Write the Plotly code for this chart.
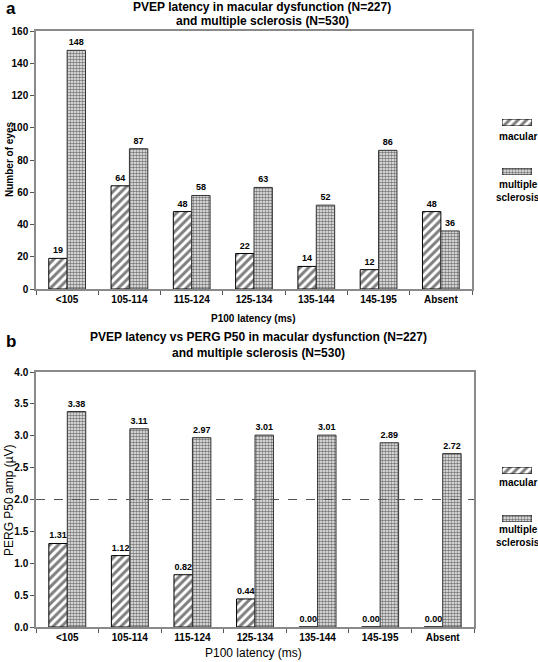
import plotly.graph_objects as go

W, H = 538, 662

categories = ["<105", "105-114", "115-124", "125-134", "135-144", "145-195", "Absent"]
macular_eyes = [19, 64, 48, 22, 14, 12, 48]
ms_eyes = [148, 87, 58, 63, 52, 86, 36]
macular_perg = [1.31, 1.12, 0.82, 0.44, 0.00, 0.00, 0.00]
ms_perg = [3.38, 3.11, 2.97, 3.01, 3.01, 2.89, 2.72]
threshold = 2.0

FONT = "Liberation Sans, Arial, sans-serif"
NARROW = "Liberation Sans Narrow, Arial Narrow, Liberation Sans, Arial, sans-serif"
FRAME = "#8a8a8a"

hatch = dict(shape="/", fgcolor="black", bgcolor="white", size=6, solidity=0.5)
dots = dict(shape=".", fgcolor="black", bgcolor="#f4f4f4", size=3, solidity=0.55)


def px_x(p):
    return p / W


def px_y(p):
    return 1 - p / H


fig = go.Figure()

txtfont = dict(family=NARROW, size=9, color="black", weight="bold")

# top panel
fig.add_trace(go.Bar(x=categories, y=macular_eyes, name="macular", xaxis="x", yaxis="y",
                     marker=dict(color="white", pattern=hatch, line=dict(color="black", width=1)),
                     text=macular_eyes, textposition="outside", textfont=txtfont,
                     cliponaxis=False, showlegend=False))
fig.add_trace(go.Bar(x=categories, y=ms_eyes, name="multiple sclerosis", xaxis="x", yaxis="y",
                     marker=dict(color="white", pattern=dots, line=dict(color="#333", width=1)),
                     text=ms_eyes, textposition="outside", textfont=txtfont,
                     cliponaxis=False, showlegend=False))
# bottom panel
fig.add_trace(go.Bar(x=categories, y=macular_perg, name="macular", xaxis="x2", yaxis="y2",
                     marker=dict(color="white", pattern=hatch, line=dict(color="black", width=1)),
                     texttemplate="%{y:.2f}", textposition="outside", textfont=txtfont,
                     cliponaxis=False, showlegend=False))
fig.add_trace(go.Bar(x=categories, y=ms_perg, name="multiple sclerosis", xaxis="x2", yaxis="y2",
                     marker=dict(color="white", pattern=dots, line=dict(color="#333", width=1)),
                     texttemplate="%{y:.2f}", textposition="outside", textfont=txtfont,
                     cliponaxis=False, showlegend=False))

# legend swatches (mini axes)
sw = [(502, 532, 119, 126, "x3", "y3", hatch), (502, 532, 168, 175, "x4", "y4", dots),
      (502, 532, 467, 474, "x5", "y5", hatch), (502, 532, 515, 522, "x6", "y6", dots)]
for (x0, x1, y0, y1, xa, ya, pat) in sw:
    fig.add_trace(go.Bar(x=[0], y=[1], width=[1], xaxis=xa, yaxis=ya, showlegend=False,
                         hoverinfo="skip",
                         marker=dict(color="white", pattern=pat, line=dict(color="black", width=1))))

tickfont = dict(family=NARROW, size=10, color="black", weight="bold")

xcommon = dict(type="category", showline=True, mirror=True, linecolor=FRAME, linewidth=1.5,
               ticks="outside", tickson="boundaries", ticklen=4, tickcolor="#555",
               tickfont=tickfont, showgrid=False, zeroline=False)
ycommon = dict(showline=True, mirror=True, linecolor=FRAME, linewidth=1.5,
               ticks="outside", ticklen=4, tickcolor="#555", tickfont=tickfont,
               showgrid=False, zeroline=False)

layout = dict(
    width=W, height=H, margin=dict(l=0, r=0, t=0, b=0, autoexpand=False),
    paper_bgcolor="white", plot_bgcolor="white",
    barmode="group", bargap=0.41, bargroupgap=0,
    font=dict(family=FONT, color="black"),
    xaxis=dict(domain=[px_x(36), px_x(472)], anchor="y", **xcommon),
    yaxis=dict(domain=[px_y(289), px_y(31)], anchor="x", range=[0, 160], dtick=20, **ycommon),
    xaxis2=dict(domain=[px_x(36), px_x(474)], anchor="y2", **xcommon),
    yaxis2=dict(domain=[px_y(627), px_y(372)], anchor="x2", range=[0, 4], dtick=0.5,
                tickformat=".1f", **ycommon),
)
for (x0, x1, y0, y1, xa, ya, pat) in sw:
    n = xa[1:]
    layout["xaxis" + n] = dict(domain=[px_x(x0), px_x(x1)], anchor="y" + n, range=[-0.5, 0.5],
                               visible=False, fixedrange=True)
    layout["yaxis" + n] = dict(domain=[px_y(y1), px_y(y0)], anchor="x" + n, range=[0, 1],
                               visible=False, fixedrange=True)
fig.update_layout(**layout)

fig.add_shape(type="line", xref="x2 domain", x0=0, x1=1, yref="y2", y0=threshold, y1=threshold,
              line=dict(color="#555", width=1, dash="dash"))

ann = []


def A(text, x, y, size, bold=True, xanchor="center", angle=0, family=FONT):
    ann.append(dict(text=text, x=px_x(x), y=px_y(y), xref="paper", yref="paper",
                    showarrow=False, xanchor=xanchor, yanchor="middle", textangle=angle,
                    font=dict(family=family, size=size, color="black",
                              weight="bold" if bold else "normal")))


A("a", 4, 8, 17, xanchor="left")
A("PVEP latency in macular dysfunction (N=227)", 262, 7, 12)
A("and multiple sclerosis (N=530)", 262, 21, 12)
A("Number of eyes", 9, 160, 10, angle=-90)
A("P100 latency (ms)", 253, 318, 10)
A("macular", 518, 136, 10, family=NARROW)
A("multiple", 518, 185, 10, family=NARROW)
A("sclerosis", 518, 197, 10, family=NARROW)

A("b", 4, 341, 17, xanchor="left")
A("PVEP latency vs PERG P50 in macular dysfunction (N=227)", 258, 337, 12)
A("and multiple sclerosis (N=530)", 258, 353, 12)
A("PERG P50 amp (µV)", 9, 500, 12, bold=False, angle=-90)
A("P100 latency (ms)", 253, 653, 12, bold=False)
A("macular", 518, 482, 10, family=NARROW)
A("multiple", 518, 529, 10, family=NARROW)
A("sclerosis", 518, 542, 10, family=NARROW)

fig.update_layout(annotations=ann)
fig.write_html("out.html", config={"displayModeBar": False},
               post_script="document.body.style.margin='0';document.body.style.overflow='hidden';")
